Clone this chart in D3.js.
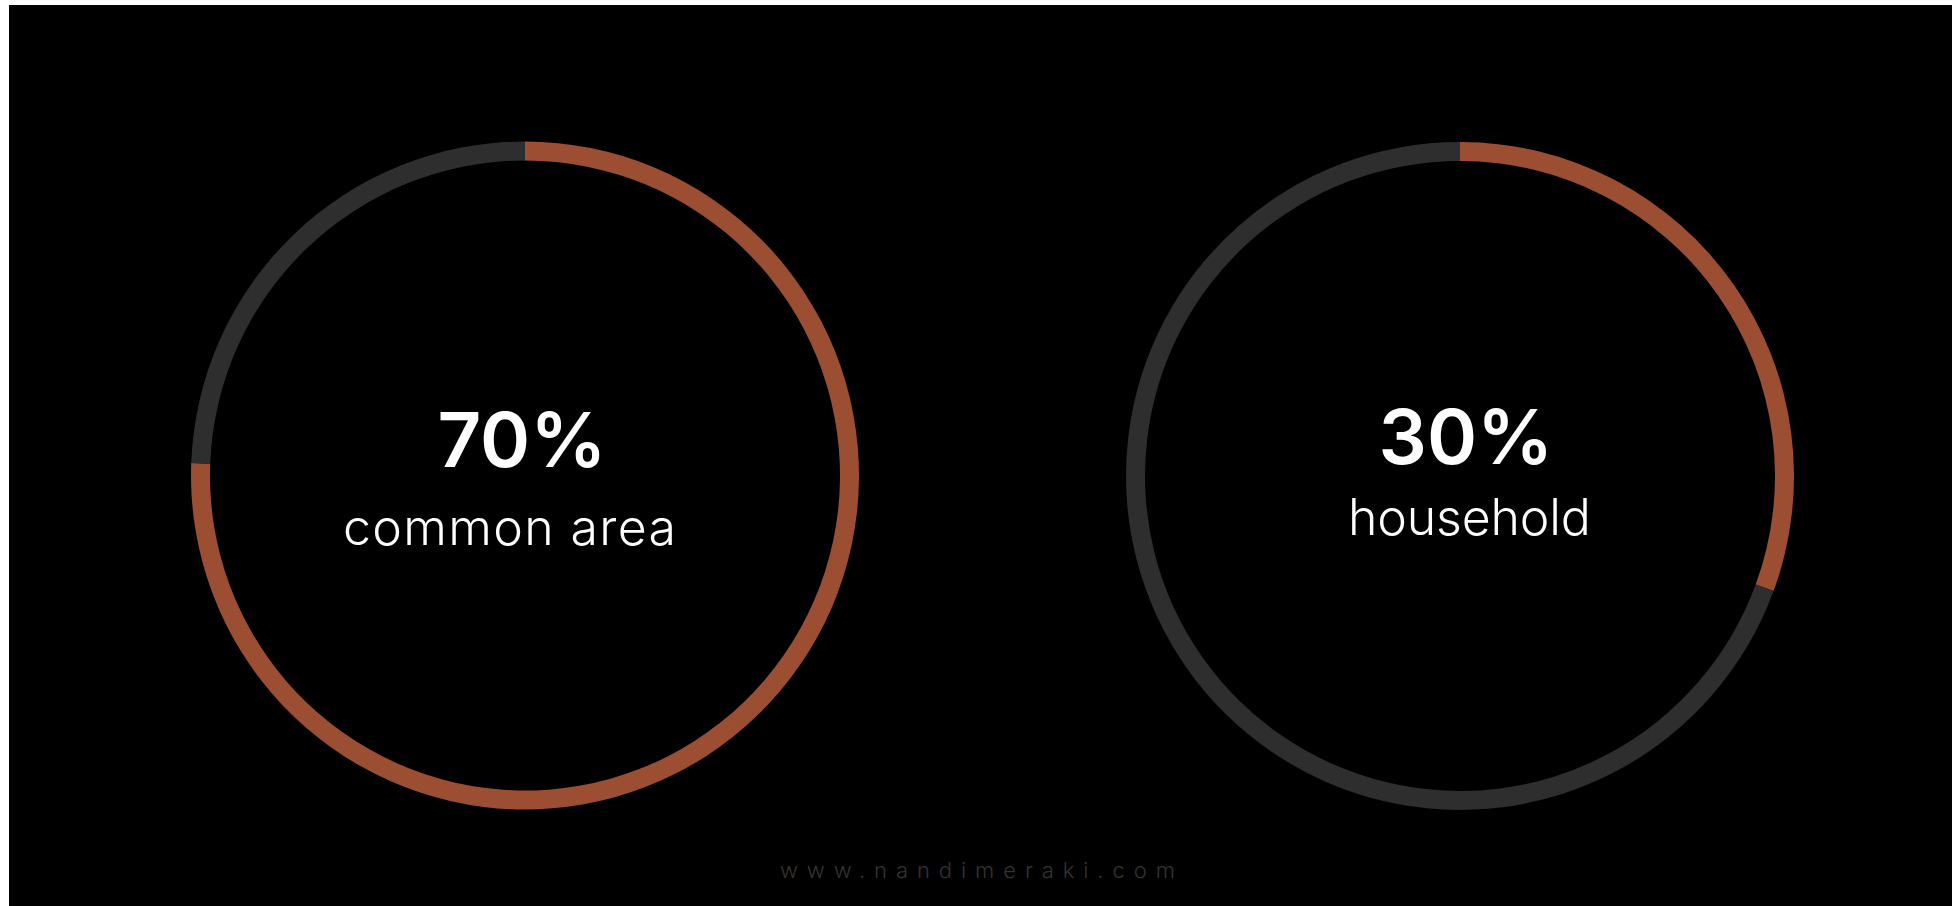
<!DOCTYPE html>
<html>
<head>
<meta charset="utf-8">
<script src="https://cdn.jsdelivr.net/npm/d3@7"></script>
<style>
  html, body { margin: 0; padding: 0; background: #ffffff; }
  svg { display: block; }
</style>
</head>
<body>
<svg id="chart" width="1958" height="906"></svg>
<script>
// ---- data ----
const categories = ["common area", "household"];
const percentLabels = ["70%", "30%"];
const ringShares = [75.6, 30.6];          // filled part of each ring (%)
const watermark = "www.nandimeraki.com";

// ---- layout ----
const W = 1958, H = 906;
const svg = d3.select("#chart");
svg.append("rect").attr("x", 0).attr("y", 0).attr("width", W).attr("height", H).attr("fill", "#ffffff");
svg.append("rect").attr("x", 9).attr("y", 5).attr("width", 1943).attr("height", H - 5).attr("fill", "#000000");

const centers = d3.scalePoint().domain(categories).range([525, 1460]);
const cy = [475.5, 476];
const colors = d3.scaleOrdinal().domain(["filled", "rest"]).range(["#9b4e31", "#2e2e2e"]);

const pie = d3.pie().sort(null).value(d => d.v);
const arc = d3.arc().innerRadius(315).outerRadius(334);

const bigLayout = [
  { cx: 522, base: 467, width: 152 },
  { cx: 1466, base: 464, width: 145 }
];
const smallLayout = [
  { left: 343, base: 545, width: 333 },
  { left: 1348, base: 535, width: 243 }
];

function fitText(sel, target) {
  const node = sel.node();
  const n = sel.text().length;
  const w = node.getComputedTextLength();
  if (n > 1) sel.attr("letter-spacing", ((target - w) / (n - 1)).toFixed(2));
}

categories.forEach((cat, i) => {
  const g = svg.append("g").attr("transform", `translate(${centers(cat)},${cy[i]})`);
  const data = [{ k: "filled", v: ringShares[i] }, { k: "rest", v: 100 - ringShares[i] }];
  g.selectAll("path").data(pie(data)).join("path")
    .attr("d", arc)
    .attr("fill", d => colors(d.data.k));

  const big = svg.append("text")
    .attr("x", 0).attr("y", bigLayout[i].base)
    .attr("font-family", "Inter, 'Open Sans', sans-serif")
    .attr("font-weight", 600)
    .attr("font-size", 76)
    .attr("fill", "#ffffff")
    .text(percentLabels[i]);
  const n = percentLabels[i].length;
  const adv = big.node().getComputedTextLength();
  const ls = Math.max(0, (bigLayout[i].width - adv) / (n - 1));
  big.attr("letter-spacing", ls.toFixed(2));
  const total = adv + ls * (n - 1);
  big.attr("x", (bigLayout[i].cx - total / 2).toFixed(1));

  const small = svg.append("text")
    .attr("x", smallLayout[i].left).attr("y", smallLayout[i].base)
    .attr("font-family", "Inter, 'Open Sans', sans-serif")
    .attr("font-weight", 300)
    .attr("font-size", 50)
    .attr("fill", "#ffffff")
    .text(cat);
  fitText(small, smallLayout[i].width);
});

const wm = svg.append("text")
  .attr("x", 780).attr("y", 878)
  .attr("font-family", "Inter, 'Open Sans', sans-serif")
  .attr("font-weight", 300)
  .attr("font-size", 22)
  .attr("fill", "#333333")
  .text(watermark);
fitText(wm, 395);
</script>
</body>
</html>
